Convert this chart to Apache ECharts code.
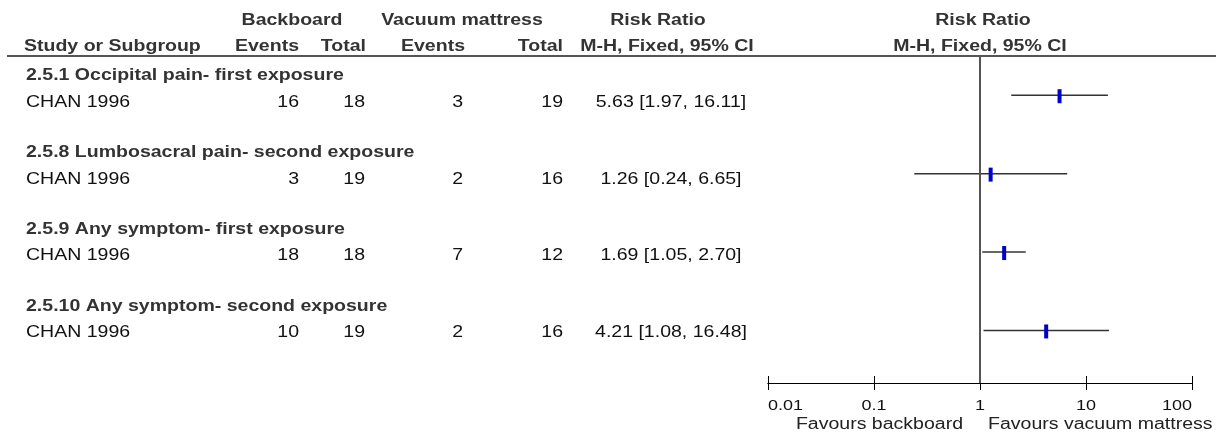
<!DOCTYPE html>
<html>
<head>
<meta charset="utf-8">
<script src="https://cdn.jsdelivr.net/npm/echarts@6/dist/echarts.min.js"></script>
<style>html,body{margin:0;padding:0;background:#fff}#c{width:1226px;height:434px}</style>
</head>
<body>
<div id="c"></div>
<script>
// ---- data ----
const groups = ['2.5.1 Occipital pain- first exposure', '2.5.8 Lumbosacral pain- second exposure', '2.5.9 Any symptom- first exposure', '2.5.10 Any symptom- second exposure'];
const studies = ['CHAN 1996', 'CHAN 1996', 'CHAN 1996', 'CHAN 1996'];
const bbEvents = [16, 3, 18, 10];
const bbTotal = [18, 19, 18, 19];
const vmEvents = [3, 2, 7, 2];
const vmTotal = [19, 16, 12, 16];
const rr = [5.63, 1.26, 1.69, 4.21];
const ciLow = [1.97, 0.24, 1.05, 1.08];
const ciHigh = [16.11, 6.65, 2.70, 16.48];
const xTicks = [0.01, 0.1, 1, 10, 100];
const tickLabels = ['0.01', '0.1', '1', '10', '100'];
const favourLeft = 'Favours backboard';
const favourRight = 'Favours vacuum mattress';

// ---- layout ----
const FONT = '"Liberation Sans", Arial, sans-serif';
const SX = 1.22;
const groupY = [76, 153, 230, 307];
const rowY = [102.5, 179.5, 256, 332.5];

function txt(t, x, y, align, bold, color, size, sx) {
  return {
    type: 'text', x: x, y: y, scaleX: sx || SX, silent: true,
    style: {
      text: t, x: 0, y: 0, align: align, verticalAlign: 'middle',
      font: (bold ? 'bold ' : '') + (size || 16) + 'px ' + FONT,
      fill: color || (bold ? '#333' : '#111')
    }
  };
}

const g = [];
g.push({type: 'line', silent: true, shape: {x1: 7, y1: 56, x2: 1216, y2: 56}, style: {stroke: '#555', lineWidth: 2}});
g.push(txt('Backboard', 292, 21, 'center', true));
g.push(txt('Vacuum mattress', 462, 21, 'center', true));
g.push(txt('Risk Ratio', 658, 21, 'center', true));
g.push(txt('Risk Ratio', 983, 21, 'center', true));
g.push(txt('Study or Subgroup', 24, 47, 'left', true));
g.push(txt('Events', 299, 47, 'right', true));
g.push(txt('Total', 366, 47, 'right', true));
g.push(txt('Events', 465, 47, 'right', true));
g.push(txt('Total', 563, 47, 'right', true));
g.push(txt('M-H, Fixed, 95% CI', 667, 47, 'center', true));
g.push(txt('M-H, Fixed, 95% CI', 980, 47, 'center', true));
for (let i = 0; i < groups.length; i++) {
  g.push(txt(groups[i], 26, groupY[i], 'left', true));
  g.push(txt(studies[i], 26, rowY[i], 'left', false));
  g.push(txt(String(bbEvents[i]), 299, rowY[i], 'right', false));
  g.push(txt(String(bbTotal[i]), 365, rowY[i], 'right', false));
  g.push(txt(String(vmEvents[i]), 463, rowY[i], 'right', false));
  g.push(txt(String(vmTotal[i]), 563, rowY[i], 'right', false));
  g.push(txt(rr[i].toFixed(2) + ' [' + ciLow[i].toFixed(2) + ', ' + ciHigh[i].toFixed(2) + ']', 671, rowY[i], 'center', false));
}

const ciData = rr.map((v, i) => [ciLow[i], ciHigh[i], v, i + 1]);

const axisBase = {
  type: 'log', logBase: 10, min: 0.01, max: 100, position: 'bottom',
  axisLine: {show: true, onZero: false, lineStyle: {color: '#000', width: 1}},
  axisLabel: {show: false}, splitLine: {show: false}
};

const chart = echarts.init(document.getElementById('c'), null, {renderer: 'canvas'});
chart.setOption({
  animation: false,
  backgroundColor: '#fff',
  grid: {left: 768, right: 34, top: 56, bottom: 51, containLabel: false},
  xAxis: [
    Object.assign({}, axisBase, {axisTick: {show: true, inside: false, length: 7, lineStyle: {color: '#000', width: 1}}}),
    Object.assign({}, axisBase, {axisTick: {show: true, inside: true, length: 7, lineStyle: {color: '#000', width: 1}}})
  ],
  yAxis: {type: 'value', min: 0.5, max: 4.67, inverse: true, show: false},
  series: [{
    type: 'custom',
    xAxisIndex: 0,
    data: ciData,
    encode: {x: [0, 1, 2], y: 3},
    renderItem: function (params, api) {
      const y = api.value(3);
      const p1 = api.coord([api.value(0), y]);
      const p2 = api.coord([api.value(1), y]);
      const pc = api.coord([api.value(2), y]);
      return {
        type: 'group',
        children: [
          {type: 'line', shape: {x1: p1[0], y1: p1[1], x2: p2[0], y2: p2[1]}, style: {stroke: '#333', lineWidth: 1.5}},
          {type: 'rect', shape: {x: pc[0] - 2, y: pc[1] - 6, width: 4, height: 14}, style: {fill: '#0000CC'}}
        ]
      };
    },
    markLine: {
      silent: true, symbol: 'none', label: {show: false},
      lineStyle: {color: '#555', width: 2, type: 'solid'},
      data: [{xAxis: 1}]
    },
    z: 3
  }],
  graphic: g
});

const axisY = 383;
const extra = [];
for (let i = 0; i < xTicks.length; i++) {
  const px = chart.convertToPixel({xAxisIndex: 0}, xTicks[i]);
  const al = i === 0 ? 'left' : (i === xTicks.length - 1 ? 'right' : 'center');
  extra.push(txt(tickLabels[i], px, axisY + 23, al, false, '#111', 15, 1.2));
}
const onePx = chart.convertToPixel({xAxisIndex: 0}, 1);
extra.push(txt(favourLeft, onePx - 17, axisY + 42, 'right', false, '#222'));
extra.push(txt(favourRight, onePx + 8, axisY + 42, 'left', false, '#222'));
chart.setOption({graphic: g.concat(extra)});
</script>
</body>
</html>
